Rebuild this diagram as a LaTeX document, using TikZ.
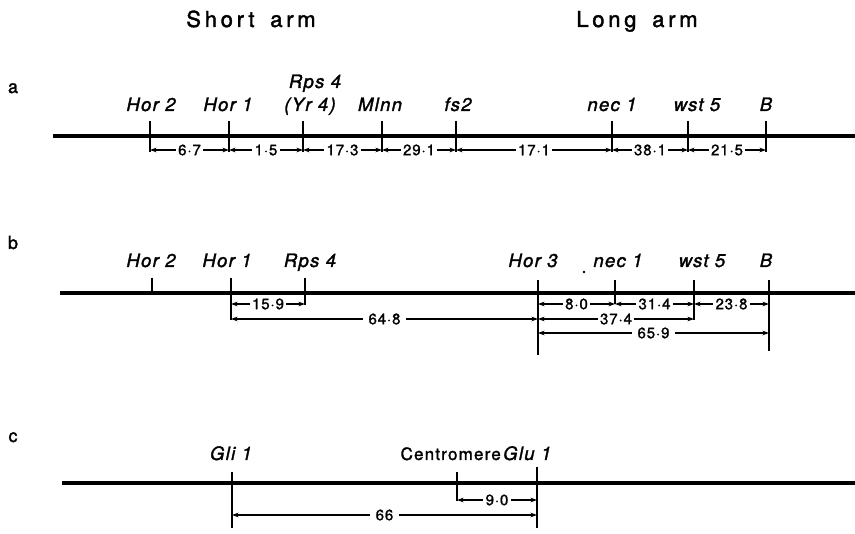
\documentclass[tikz,border=0pt]{standalone}
\usepackage{fontspec}
\setmainfont{TeX Gyre Heros}
\newfontfamily\genefont[LetterSpace=7,FakeBold=1.6]{TeX Gyre Heros}
\newfontfamily\numfont[LetterSpace=6,FakeBold=1.4]{TeX Gyre Heros}
\newfontfamily\headfont[LetterSpace=17,WordSpace=1.6,FakeBold=1.8]{TeX Gyre Heros}
\newfontfamily\rowfont[FakeBold=1.8]{TeX Gyre Heros}
\usetikzlibrary{arrows.meta}
\tikzset{
 chrom/.style={line width=3.2pt},
 tickline/.style={line width=2.3pt},
 dim/.style={line width=1.1pt,{Stealth[length=6.5pt,width=4.6pt]}-{Stealth[length=6.5pt,width=4.6pt]}},
 dimlbl/.style={fill=white,inner xsep=2.5pt,inner ysep=0.5pt,font=\numfont\fontsize{15}{15}\selectfont},
 gene/.style={anchor=base,inner sep=0pt,font=\genefont\itshape\fontsize{18.5}{20}\selectfont},
 plainlbl/.style={anchor=base,inner sep=0pt,font=\genefont\fontsize{17}{20}\selectfont},
 head/.style={anchor=base,inner sep=0pt,font=\headfont\fontsize{22}{24}\selectfont},
 rowlbl/.style={anchor=base,inner sep=0pt,font=\rowfont\fontsize{18}{20}\selectfont},
}
\begin{document}
\begin{tikzpicture}[x=1pt,y=-1pt]
\useasboundingbox (0,0) rectangle (855,534);
% headings
\node[head] (short) at (251,27) {Short arm};
\node[head] (long) at (637,27) {Long arm};
\node[rowlbl] (la) at (13,93) {a};
\node[rowlbl] (lb) at (13,249) {b};
\node[rowlbl] (lc) at (13,442) {c};

% ---------- row a ----------
\coordinate (aL) at (53,136); \coordinate (aR) at (855,136);
\draw[chrom] (aL) -- (aR);
\coordinate (aD) at (0,150);
\foreach \n/\x in {H2/150,H1/229,R4/303,Ml/382,fs/456,ne/612,ws/688,B/766}{
  \coordinate (a\n t) at (\x,121); \coordinate (a\n b) at (\x,152);
  \draw[tickline] (a\n t) -- (a\n b);
}
\node[gene] (ga1) at (151,111) {Hor 2};
\node[gene] (ga2) at (228,111) {Hor 1};
\node[gene] (ga3) at (315,88) {Rps 4};
\node[gene] (ga3b) at (310,111) {(Yr 4)};
\node[gene] (ga4) at (380,111) {Mlnn};
\node[gene] (ga5) at (458,111) {fs2};
\node[gene] (ga6) at (612,111) {nec 1};
\node[gene] (ga7) at (697,111) {wst 5};
\node[gene] (ga8) at (766,111) {B};
\draw[dim] (aH2t |- aD) -- node[dimlbl] (da1) {6·7} (aH1t |- aD);
\draw[dim] (aH1t |- aD) -- node[dimlbl] (da2) {1·5} (aR4t |- aD);
\draw[dim] (aR4t |- aD) -- node[dimlbl] (da3) {17·3} (aMlt |- aD);
\draw[dim] (aMlt |- aD) -- node[dimlbl] (da4) {29·1} (afst |- aD);
\draw[dim] (afst |- aD) -- node[dimlbl] (da5) {17·1} (anet |- aD);
\draw[dim] (anet |- aD) -- node[dimlbl] (da6) {38·1} (awst |- aD);
\draw[dim] (awst |- aD) -- node[dimlbl] (da7) {21·5} (aBt |- aD);

% ---------- row b ----------
\coordinate (bL) at (60,293); \coordinate (bR) at (855,293);
\draw[chrom] (bL) -- (bR);
\coordinate (bD1) at (0,304); \coordinate (bD2) at (0,319); \coordinate (bD3) at (0,333);
\foreach \n/\x/\t/\b in {H2/152/278/293,H1/231/278/320,R4/305/278/305,H3/538/280/355,ne/615/280/304,ws/694/280/320,B/769/280/351}{
  \coordinate (b\n t) at (\x,\t); \coordinate (b\n b) at (\x,\b);
  \draw[tickline] (b\n t) -- (b\n b);
}
\node[gene] (gb1) at (151,267) {Hor 2};
\node[gene] (gb2) at (227,267) {Hor 1};
\node[gene] (gb3) at (310,267) {Rps 4};
\node[gene] (gb4) at (533,267) {Hor 3};
\node[gene] (gb5) at (618,267) {nec 1};
\node[gene] (gb6) at (702,267) {wst 5};
\node[gene] (gb7) at (766,267) {B};
\fill (584,272) circle[radius=1.3pt];
\draw[dim] (bH1t |- bD1) -- node[dimlbl] (db1) {15·9} (bR4t |- bD1);
\draw[dim] (bH1t |- bD2) -- node[dimlbl,inner xsep=6pt] (db2) {64·8} (bH3t |- bD2);
\draw[dim] (bH3t |- bD1) -- node[dimlbl] (db3) {8·0} (bnet |- bD1);
\draw[dim] (bnet |- bD1) -- node[dimlbl] (db4) {31·4} (bwst |- bD1);
\draw[dim] (bwst |- bD1) -- node[dimlbl] (db5) {23·8} (bBt |- bD1);
\draw[dim] (bH3t |- bD2) -- node[dimlbl] (db6) {37·4} (bwst |- bD2);
\draw[dim] (bH3t |- bD3) -- node[dimlbl,inner xsep=6pt] (db7) {65·9} (bBt |- bD3);

% ---------- row c ----------
\coordinate (cL) at (62,483); \coordinate (cR) at (855,483);
\draw[chrom] (cL) -- (cR);
\coordinate (cD1) at (0,500); \coordinate (cD2) at (0,515);
\foreach \n/\x/\t/\b in {Gi/232/472/528,Ce/457/472/501,Gu/537/467/528}{
  \coordinate (c\n t) at (\x,\t); \coordinate (c\n b) at (\x,\b);
  \draw[tickline] (c\n t) -- (c\n b);
}
\node[gene] (gc1) at (231,460) {Gli 1};
\node[plainlbl,anchor=base east] (gc2) at (501,460) {Centromere};
\node[gene,anchor=base west] (gc3) at (503,460) {Glu 1};
\draw[dim] (cCet |- cD1) -- node[dimlbl] (dc1) {9·0} (cGut |- cD1);
\draw[dim] (cGit |- cD2) -- node[dimlbl,inner xsep=6pt] (dc2) {66} (cGut |- cD2);
\end{tikzpicture}
\end{document}
